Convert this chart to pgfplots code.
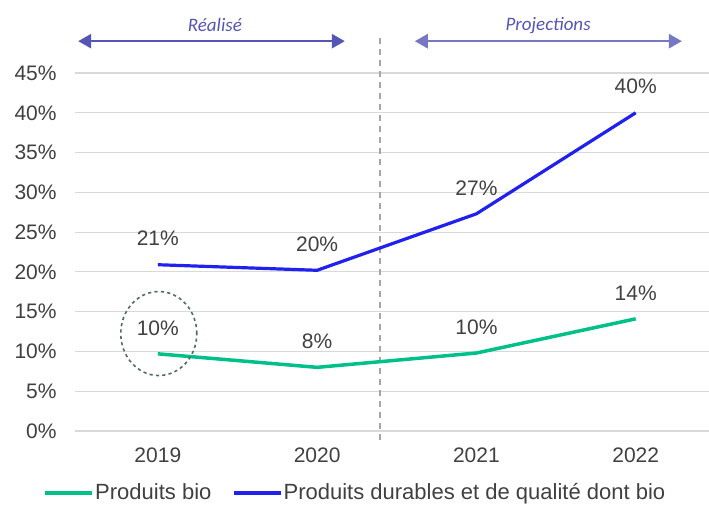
\documentclass[border=0pt]{standalone}
\usepackage{fontspec}
\setmainfont{Liberation Sans}
\newfontfamily\carlito{Carlito}
\usepackage{pgfplots}
\pgfplotsset{compat=1.18}
\usetikzlibrary{arrows.meta}
\definecolor{cblue}{HTML}{2020F0}
\definecolor{cgreen}{HTML}{00C08A}
\definecolor{ctext}{HTML}{404040}
\definecolor{cgrid}{HTML}{D9D9D9}
\definecolor{carrow}{HTML}{5555B5}
\definecolor{ccircle}{HTML}{4F6F5F}
\begin{document}
\begin{tikzpicture}
\useasboundingbox (-37.5pt,-38pt) rectangle (317pt,215.5pt);
\begin{axis}[
 scale only axis, width=317pt, height=179pt,
 xmin=-0.52, xmax=3.46, ymin=0, ymax=45,
 axis line style={draw=none},
 major tick length=0pt,
 xtick={0,1,2,3}, xticklabels={2019,2020,2021,2022},
 ytick={0,5,...,45},
 yticklabel={\pgfmathprintnumber{\tick}\%},
 /pgf/number format/assume math mode=true,
 ymajorgrids, grid style={cgrid, line width=0.6pt},
 tick label style={font=\fontsize{10.5}{12}\selectfont, text=ctext},
 yticklabel style={anchor=east, inner sep=0pt, xshift=-9pt},
 xticklabel style={anchor=north, inner sep=0pt, yshift=-8.4pt},
 clip=false,
 nodes near coords, point meta=explicit symbolic,
 nodes near coords style={anchor=base, inner sep=0pt, yshift=9.4pt, font=\fontsize{10.5}{12}\selectfont, text=ctext},
 legend image code/.code={\draw[#1] (0pt,0pt) -- (23.5pt,0pt);},
 legend style={at={(axis description cs:0.4416,-0.173)}, anchor=center, draw=none, fill=none, legend columns=2, font=\fontsize{11}{13}\selectfont, text=ctext, /tikz/every even column/.append style={column sep=10pt}, inner sep=0pt, nodes={inner sep=0.5pt}},
 legend cell align=left,
]
\draw[gray!70, line width=0.7pt, dash pattern=on 3pt off 2.5pt] (axis cs:1.394,-1.1) -- (axis cs:1.394,49.8);
\addplot[cgreen, line width=1.75pt, line join=round] coordinates {(0,9.7) [10\%] (1,8.0) [8\%] (2,9.8) [10\%] (3,14.1) [14\%]};
\addlegendentry{Produits bio}
\addplot[cblue, line width=1.6pt, line join=round] coordinates {(0,20.9) [21\%] (1,20.2) [20\%] (2,27.3) [27\%] (3,40.0) [40\%]};
\addlegendentry{Produits durables et de qualité dont bio}
\draw[carrow, line width=1.3pt, {Triangle[length=6.5pt,width=7pt]}-{Triangle[length=6.5pt,width=7pt]}] (axis cs:-0.50,49.0) -- (axis cs:1.174,49.0);
\draw[carrow!80, line width=1.3pt, {Triangle[length=6.5pt,width=7pt]}-{Triangle[length=6.5pt,width=7pt]}] (axis cs:1.613,49.0) -- (axis cs:3.29,49.0);
\node[carrow, font=\carlito\itshape\fontsize{9.5}{11}\selectfont] at (axis cs:0.358,51.0) {Réalisé};
\node[carrow, font=\carlito\itshape\fontsize{9.5}{11}\selectfont] at (axis cs:2.45,51.0) {Projections};
\draw[ccircle, line width=0.8pt, dash pattern=on 1.6pt off 1.6pt] (axis cs:0.006,12.25) ellipse [x radius=19pt, y radius=21pt];
\end{axis}
\end{tikzpicture}
\end{document}
